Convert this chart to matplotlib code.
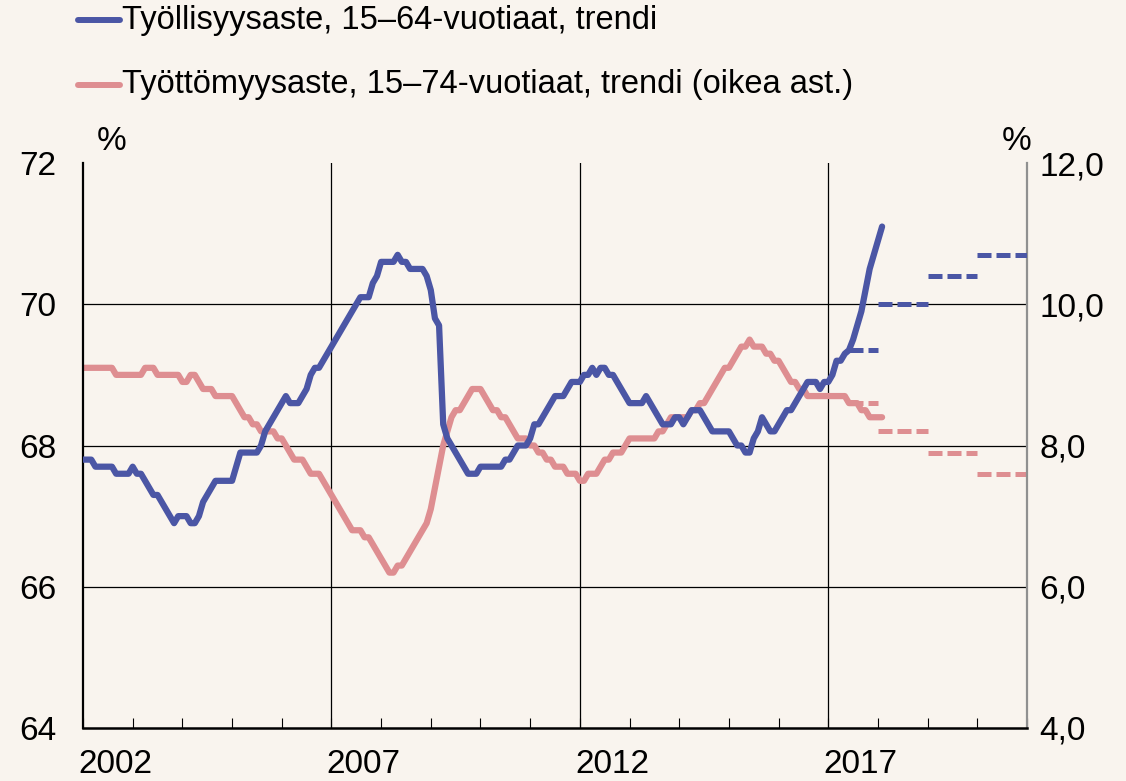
import matplotlib
matplotlib.use("Agg")
import matplotlib.pyplot as plt
from matplotlib.lines import Line2D
import numpy as np

# ---------------- data ----------------
start_year = 2002
employment = [
    # 2002
    67.8, 67.8, 67.8, 67.7, 67.7, 67.7, 67.7, 67.7, 67.6, 67.6, 67.6, 67.6,
    # 2003
    67.7, 67.6, 67.6, 67.5, 67.4, 67.3, 67.3, 67.2, 67.1, 67.0, 66.9, 67.0,
    # 2004
    67.0, 67.0, 66.9, 66.9, 67.0, 67.2, 67.3, 67.4, 67.5, 67.5, 67.5, 67.5,
    # 2005
    67.5, 67.7, 67.9, 67.9, 67.9, 67.9, 67.9, 68.0, 68.2, 68.3, 68.4, 68.5,
    # 2006
    68.6, 68.7, 68.6, 68.6, 68.6, 68.7, 68.8, 69.0, 69.1, 69.1, 69.2, 69.3,
    # 2007
    69.4, 69.5, 69.6, 69.7, 69.8, 69.9, 70.0, 70.1, 70.1, 70.1, 70.3, 70.4,
    # 2008
    70.6, 70.6, 70.6, 70.6, 70.7, 70.6, 70.6, 70.5, 70.5, 70.5, 70.5, 70.4,
    # 2009
    70.2, 69.8, 69.7, 68.3, 68.1, 68.0, 67.9, 67.8, 67.7, 67.6, 67.6, 67.6,
    # 2010
    67.7, 67.7, 67.7, 67.7, 67.7, 67.7, 67.8, 67.8, 67.9, 68.0, 68.0, 68.0,
    # 2011
    68.1, 68.3, 68.3, 68.4, 68.5, 68.6, 68.7, 68.7, 68.7, 68.8, 68.9, 68.9,
    # 2012
    68.9, 69.0, 69.0, 69.1, 69.0, 69.1, 69.1, 69.0, 69.0, 68.9, 68.8, 68.7,
    # 2013
    68.6, 68.6, 68.6, 68.6, 68.7, 68.6, 68.5, 68.4, 68.3, 68.3, 68.3, 68.4,
    # 2014
    68.4, 68.3, 68.4, 68.5, 68.5, 68.5, 68.4, 68.3, 68.2, 68.2, 68.2, 68.2,
    # 2015
    68.2, 68.1, 68.0, 68.0, 67.9, 67.9, 68.1, 68.2, 68.4, 68.3, 68.2, 68.2,
    # 2016
    68.3, 68.4, 68.5, 68.5, 68.6, 68.7, 68.8, 68.9, 68.9, 68.9, 68.8, 68.9,
    # 2017
    68.9, 69.0, 69.2, 69.2, 69.3, 69.35, 69.5, 69.7, 69.9, 70.2, 70.5, 70.7,
    # 2018
    70.9, 71.1,
]
unemployment = [
    # 2002
    9.1, 9.1, 9.1, 9.1, 9.1, 9.1, 9.1, 9.1, 9.0, 9.0, 9.0, 9.0,
    # 2003
    9.0, 9.0, 9.0, 9.1, 9.1, 9.1, 9.0, 9.0, 9.0, 9.0, 9.0, 9.0,
    # 2004
    8.9, 8.9, 9.0, 9.0, 8.9, 8.8, 8.8, 8.8, 8.7, 8.7, 8.7, 8.7,
    # 2005
    8.7, 8.6, 8.5, 8.4, 8.4, 8.3, 8.3, 8.2, 8.2, 8.2, 8.2, 8.1,
    # 2006
    8.1, 8.0, 7.9, 7.8, 7.8, 7.8, 7.7, 7.6, 7.6, 7.6, 7.5, 7.4,
    # 2007
    7.3, 7.2, 7.1, 7.0, 6.9, 6.8, 6.8, 6.8, 6.7, 6.7, 6.6, 6.5,
    # 2008
    6.4, 6.3, 6.2, 6.2, 6.3, 6.3, 6.4, 6.5, 6.6, 6.7, 6.8, 6.9,
    # 2009
    7.1, 7.4, 7.7, 8.0, 8.2, 8.4, 8.5, 8.5, 8.6, 8.7, 8.8, 8.8,
    # 2010
    8.8, 8.7, 8.6, 8.5, 8.5, 8.4, 8.4, 8.3, 8.2, 8.1, 8.1, 8.1,
    # 2011
    8.0, 8.0, 7.9, 7.9, 7.8, 7.8, 7.7, 7.7, 7.7, 7.6, 7.6, 7.6,
    # 2012
    7.5, 7.5, 7.6, 7.6, 7.6, 7.7, 7.8, 7.8, 7.9, 7.9, 7.9, 8.0,
    # 2013
    8.1, 8.1, 8.1, 8.1, 8.1, 8.1, 8.1, 8.2, 8.2, 8.3, 8.4, 8.4,
    # 2014
    8.4, 8.4, 8.4, 8.5, 8.5, 8.6, 8.6, 8.7, 8.8, 8.9, 9.0, 9.1,
    # 2015
    9.1, 9.2, 9.3, 9.4, 9.4, 9.5, 9.4, 9.4, 9.4, 9.3, 9.3, 9.2,
    # 2016
    9.2, 9.1, 9.0, 8.9, 8.9, 8.8, 8.8, 8.7, 8.7, 8.7, 8.7, 8.7,
    # 2017
    8.7, 8.7, 8.7, 8.7, 8.7, 8.6, 8.6, 8.6, 8.5, 8.5, 8.4, 8.4,
    # 2018
    8.4, 8.4,
]
forecast_years = [2017, 2018, 2019, 2020]
employment_forecast = [69.35, 70.0, 70.4, 70.7]
unemployment_forecast = [8.6, 8.2, 7.9, 7.6]

label_years = [2002, 2007, 2012, 2017]
left_ticks = [64, 66, 68, 70, 72]
right_ticks = [4.0, 6.0, 8.0, 10.0, 12.0]
legend_labels = ["Työllisyysaste, 15–64-vuotiaat, trendi",
                 "Työttömyysaste, 15–74-vuotiaat, trendi (oikea ast.)"]

# ---------------- style ----------------
BLUE = "#4B56A5"
PINK = "#DE8E91"
BG = "#F9F4EE"
FONT = ["Liberation Sans", "DejaVu Sans"]
FS = 24
plt.rcParams["font.family"] = FONT

W, H = 1126, 781
fig = plt.figure(figsize=(W / 100, H / 100), dpi=100, facecolor=BG)
L, R, T, B = 83, 1027, 163, 728
ax = fig.add_axes([L / W, 1 - B / H, (R - L) / W, (B - T) / H])
ax2 = ax.twinx()

x = start_year + np.arange(len(employment)) / 12.0
x_u = start_year + np.arange(len(unemployment)) / 12.0

ax.set_xlim(2002, 2021)
ax.set_ylim(64, 72)
ax2.set_ylim(4, 12)

ax.set_zorder(2)
ax2.set_zorder(1)
ax.patch.set_visible(False)
ax2.patch.set_facecolor("white")

# grid (drawn on the back axes)
for yv in [6, 8, 10]:
    ax2.axhline(yv, color="black", lw=0.9, zorder=1)
for xv in label_years[1:]:
    ax2.axvline(xv, color="black", lw=0.9, zorder=1)

lw = 4.5
ax2.plot(x_u, unemployment, color=PINK, lw=lw, solid_capstyle="round",
         solid_joinstyle="round", zorder=3)
ax.plot(x, employment, color=BLUE, lw=lw, solid_capstyle="round",
        solid_joinstyle="round", zorder=3)

dash = (0, (2.8, 1.0))
for yr, v in zip(forecast_years, employment_forecast):
    x0 = yr + (0.42 if yr == forecast_years[0] else 0.0)
    ax.plot([x0, yr + 1], [v, v], color=BLUE, lw=3.6, linestyle=dash,
            dash_capstyle="butt", zorder=3)
for yr, v in zip(forecast_years, unemployment_forecast):
    x0 = yr + (0.42 if yr == forecast_years[0] else 0.0)
    ax2.plot([x0, yr + 1], [v, v], color=PINK, lw=3.6, linestyle=dash,
             dash_capstyle="butt", zorder=3)

# ticks
ax.set_xticks(np.arange(2002, 2022))
ax.set_xticklabels([])
ax.tick_params(axis="x", which="major", direction="in", length=7, width=0.8,
               color="black")
ax.set_xticks([yv + 0.65 for yv in label_years], minor=True)
ax.set_xticklabels([str(yv) for yv in label_years], minor=True, fontsize=FS)
ax.tick_params(axis="x", which="minor", length=0, pad=15)

ax.set_yticks(left_ticks)
ax.set_yticklabels([str(v) for v in left_ticks], fontsize=FS)
ax.tick_params(axis="y", length=0, pad=19)
ax2.set_yticks(right_ticks)
ax2.set_yticklabels([f"{v:.1f}".replace(".", ",") for v in right_ticks],
                    fontsize=FS)
ax2.tick_params(axis="y", length=0, pad=9)

for a in (ax, ax2):
    for s in a.spines.values():
        s.set_visible(False)
ax.spines["left"].set_visible(True)
ax.spines["left"].set_linewidth(1.6)
ax.spines["bottom"].set_visible(True)
ax.spines["bottom"].set_linewidth(1.8)
ax.spines["right"].set_visible(True)
ax.spines["right"].set_color("#909090")
ax.spines["right"].set_linewidth(1.6)

# % labels
fig.text(112 / W, 1 - 141 / H, "%", fontsize=FS, ha="center", va="center")
fig.text(1017 / W, 1 - 141 / H, "%", fontsize=FS, ha="center", va="center")

# legend (manual)
for yy, col, lab in [(20, BLUE, legend_labels[0]), (85, PINK, legend_labels[1])]:
    fig.add_artist(Line2D([78 / W, 120 / W], [1 - yy / H, 1 - yy / H], color=col,
                          lw=4.3, solid_capstyle="round",
                          transform=fig.transFigure))
    fig.text(122 / W, 1 - yy / H, lab, fontsize=23.5, ha="left", va="center")

fig.savefig("out.png", dpi=100, facecolor=BG)
